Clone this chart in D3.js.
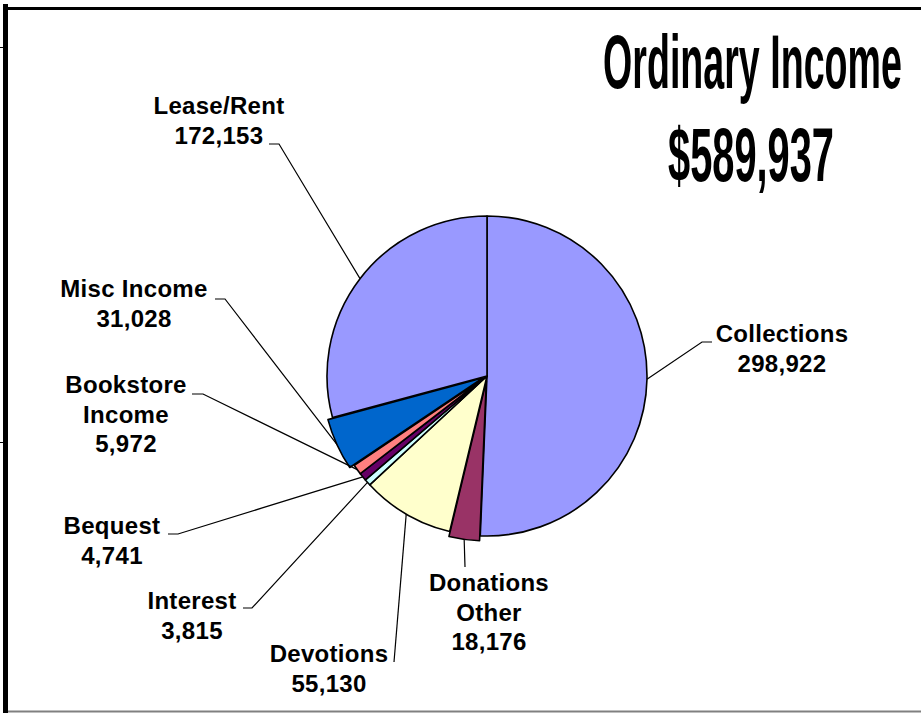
<!DOCTYPE html>
<html>
<head>
<meta charset="utf-8">
<script src="https://cdn.jsdelivr.net/npm/d3@7"></script>
<style>
body { margin: 0; background: #fff; }
text { font-family: "Liberation Sans", Arial, Helvetica, sans-serif; }
</style>
</head>
<body>
<div id="chart"></div>
<script>
// chart data
var categories = ["Collections", "Donations Other", "Devotions", "Interest", "Bequest", "Bookstore Income", "Misc Income", "Lease/Rent"];
var values = [298922, 18176, 55130, 3815, 4741, 5972, 31028, 172153];
var colours = ["#9999ff", "#993366", "#ffffcc", "#ccffff", "#660066", "#ff8080", "#0066cc", "#9999ff"];
var exploded = ["Donations Other", "Misc Income"];
var labelLines = [["Collections"], ["Donations", "Other"], ["Devotions"], ["Interest"], ["Bequest"], ["Bookstore", "Income"], ["Misc Income"], ["Lease/Rent"]];
var titleLines = ["Ordinary Income", "$589,937"];

var width = 921;
var height = 713;
var cx = 487, cy = 376, radius = 160;
var explode = 5;
var lineHeight = 29.5;

// where each label sits, and the short elbow of its leader line
var labelLayout = {
    "Collections":      { x: 782, y: 342, lead: [[712, 342], [702, 342]] },
    "Donations Other":  { x: 489, y: 591, lead: [[465, 567]] },
    "Devotions":        { x: 329, y: 662, lead: [[394, 662]] },
    "Interest":         { x: 192, y: 609, lead: [[243, 608], [252, 608]] },
    "Bequest":          { x: 112, y: 534, lead: [[168, 534], [178, 534]] },
    "Bookstore Income": { x: 126, y: 393, lead: [[192, 394], [203, 394]] },
    "Misc Income":      { x: 134, y: 297, lead: [[215, 299], [225, 299]] },
    "Lease/Rent":       { x: 219, y: 114, lead: [[269, 144], [279, 144]] }
};

var fmt = d3.format(",");

var svg = d3.select("#chart")
    .append("svg")
    .attr("width", width)
    .attr("height", height);

// frame
svg.append("rect").attr("x", 0).attr("y", 0).attr("width", width).attr("height", height).attr("fill", "#fff");
svg.append("line").attr("x1", 8).attr("x2", width).attr("y1", 8.5).attr("y2", 8.5)
    .attr("stroke", "#000").attr("stroke-width", 3);
svg.append("line").attr("x1", 5.5).attr("x2", 5.5).attr("y1", 4).attr("y2", height)
    .attr("stroke", "#000").attr("stroke-width", 5);
svg.append("line").attr("x1", 0).attr("x2", 4).attr("y1", 47.5).attr("y2", 47.5)
    .attr("stroke", "#000").attr("stroke-width", 1);
svg.append("line").attr("x1", 0).attr("x2", 4).attr("y1", 442.5).attr("y2", 442.5)
    .attr("stroke", "#000").attr("stroke-width", 1);
svg.append("line").attr("x1", 8).attr("x2", width).attr("y1", 711.5).attr("y2", 711.5)
    .attr("stroke", "#808080").attr("stroke-width", 2);

var data = categories.map(function(c, i) {
    return { key: c, value: values[i], colour: colours[i], lines: labelLines[i] };
});

var pie = d3.pie()
    .sort(null)
    .value(function(d) { return d.value; });

var arc = d3.arc()
    .innerRadius(0)
    .outerRadius(radius);

function midAngle(d) {
    return d.startAngle + (d.endAngle - d.startAngle) / 2;
}

function offset(d) {
    if (exploded.indexOf(d.data.key) < 0) return [0, 0];
    var a = midAngle(d);
    return [Math.sin(a) * explode, -Math.cos(a) * explode];
}

var arcs = pie(data);

var g = svg.append("g")
    .attr("transform", "translate(" + cx + "," + cy + ")");

g.selectAll("path.slice")
    .data(arcs)
    .enter()
    .append("path")
    .attr("class", "slice")
    .attr("d", arc)
    .attr("transform", function(d) { return "translate(" + offset(d) + ")"; })
    .attr("fill", function(d) { return d.data.colour; })
    .attr("stroke", "#000")
    .attr("stroke-width", 1.6)
    .attr("stroke-linejoin", "round");

// leader lines: label elbow -> middle of slice's outer edge
svg.append("g")
    .selectAll("polyline")
    .data(arcs)
    .enter()
    .append("polyline")
    .attr("fill", "none")
    .attr("stroke", "#000")
    .attr("stroke-width", 1.2)
    .attr("points", function(d) {
        var a = midAngle(d);
        var o = offset(d);
        var end = [cx + o[0] + Math.sin(a) * radius, cy + o[1] - Math.cos(a) * radius];
        return labelLayout[d.data.key].lead.concat([end]).join(" ");
    });

// labels
var labels = svg.append("g")
    .selectAll("text")
    .data(arcs)
    .enter()
    .append("text")
    .attr("text-anchor", "middle")
    .attr("font-size", 24)
    .attr("font-weight", "bold")
    .attr("letter-spacing", 0.3)
    .attr("fill", "#000");

labels.each(function(d) {
    var t = d3.select(this);
    var pos = labelLayout[d.data.key];
    var lines = d.data.lines.concat([fmt(d.data.value)]);
    lines.forEach(function(l, j) {
        t.append("tspan")
            .attr("x", pos.x)
            .attr("y", pos.y + j * lineHeight)
            .text(l);
    });
});

// title: condensed bold, squeezed to the reference width
var titleBox = [[603, 88, 299], [668, 181, 166]];
svg.append("g")
    .selectAll("text")
    .data(titleLines)
    .enter()
    .append("text")
    .attr("x", 0)
    .attr("y", 0)
    .attr("font-size", 76)
    .attr("font-weight", "bold")
    .style("font-family", "'Liberation Sans Narrow', 'Arial Narrow', 'Liberation Sans', Arial, sans-serif")
    .attr("fill", "#000")
    .text(function(d) { return d; })
    .attr("transform", function(d, i) {
        var w = this.getComputedTextLength();
        var s = titleBox[i][2] / w;
        return "translate(" + titleBox[i][0] + "," + titleBox[i][1] + ") scale(" + s + ",1)";
    });
</script>
</body>
</html>
